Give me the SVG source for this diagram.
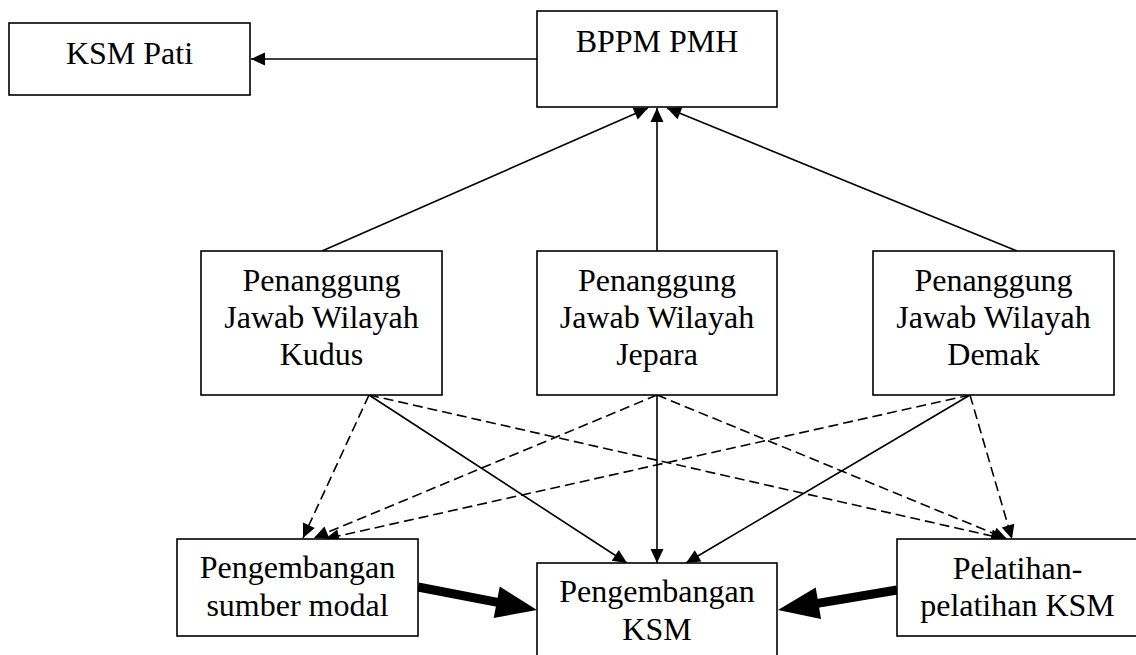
<svg xmlns="http://www.w3.org/2000/svg" width="1136" height="655" viewBox="0 0 1136 655">
<style>
.box{fill:#fff;stroke:#000;stroke-width:1.6}
.t{font-family:"Liberation Serif","Times New Roman",serif;font-size:32px;fill:#000;text-anchor:middle}
.c{stroke:#000;stroke-width:1.6;fill:none}
.d{stroke:#000;stroke-width:1.6;fill:none;stroke-dasharray:10,5}
.k{stroke:#000;stroke-width:9;fill:none}
</style>
<defs>
<marker id="ah" markerUnits="userSpaceOnUse" orient="auto" refX="0" refY="0" markerWidth="20" markerHeight="20" overflow="visible">
<path d="M-14,-6.5 L0,0 L-14,6.5 z" fill="#000"/>
</marker>
<marker id="big" markerUnits="userSpaceOnUse" orient="auto" refX="0" refY="0" markerWidth="50" markerHeight="50" overflow="visible">
<path d="M-1,-16 L40,0 L-1,16 z" fill="#000"/>
</marker>
</defs>
<rect width="1136" height="655" fill="#fff"/>
<g id="connectors">
<line class="c" x1="537" y1="59" x2="251" y2="59" marker-end="url(#ah)"/>
<line class="c" x1="322" y1="251" x2="648" y2="108" marker-end="url(#ah)"/>
<line class="c" x1="657" y1="251" x2="657" y2="108" marker-end="url(#ah)"/>
<line class="c" x1="1017" y1="251" x2="667" y2="108" marker-end="url(#ah)"/>
<line class="d" x1="369" y1="395" x2="303" y2="538" marker-end="url(#ah)"/>
<line class="d" x1="657" y1="395" x2="314" y2="538" marker-end="url(#ah)"/>
<line class="d" x1="970" y1="395" x2="325" y2="539" marker-end="url(#ah)"/>
<line class="c" x1="369" y1="395" x2="627" y2="563" marker-end="url(#ah)"/>
<line class="c" x1="657" y1="395" x2="657" y2="563" marker-end="url(#ah)"/>
<line class="c" x1="970" y1="395" x2="686" y2="563" marker-end="url(#ah)"/>
<line class="d" x1="369" y1="395" x2="1005" y2="539" marker-end="url(#ah)"/>
<line class="d" x1="657" y1="395" x2="1007" y2="539" marker-end="url(#ah)"/>
<line class="d" x1="970" y1="395" x2="1012" y2="539" marker-end="url(#ah)"/>
<line class="k" x1="418" y1="587" x2="497.7" y2="602.4" marker-end="url(#big)"/>
<line class="k" x1="897" y1="590" x2="817.4" y2="603.4" marker-end="url(#big)"/>
</g>
<g id="ksm-pati"><rect class="box" x="9" y="23" width="241" height="72"/><text class="t" x="129.5" y="64">KSM Pati</text></g>
<g id="bppm-pmh"><rect class="box" x="537" y="11" width="240" height="96"/><text class="t" x="657" y="52">BPPM PMH</text></g>
<g id="pj-kudus"><rect class="box" x="201" y="251" width="241" height="144"/><text class="t" x="321.5" y="291">Penanggung</text><text class="t" x="321.5" y="328">Jawab Wilayah</text><text class="t" x="321.5" y="365">Kudus</text></g>
<g id="pj-jepara"><rect class="box" x="537" y="251" width="240" height="144"/><text class="t" x="657" y="291">Penanggung</text><text class="t" x="657" y="328">Jawab Wilayah</text><text class="t" x="657" y="365">Jepara</text></g>
<g id="pj-demak"><rect class="box" x="873" y="251" width="241" height="144"/><text class="t" x="993.5" y="291">Penanggung</text><text class="t" x="993.5" y="328">Jawab Wilayah</text><text class="t" x="993.5" y="365">Demak</text></g>
<g id="sumber-modal"><rect class="box" x="177" y="539" width="241" height="97"/><text class="t" x="297.5" y="578">Pengembangan</text><text class="t" x="297.5" y="616">sumber modal</text></g>
<g id="pengembangan-ksm"><rect class="box" x="537" y="563" width="240" height="110"/><text class="t" x="657" y="602">Pengembangan</text><text class="t" x="657" y="640">KSM</text></g>
<g id="pelatihan"><rect class="box" x="897" y="539" width="241" height="97"/><text class="t" x="1017.5" y="579">Pelatihan-</text><text class="t" x="1017.5" y="616">pelatihan KSM</text></g>
</svg>
